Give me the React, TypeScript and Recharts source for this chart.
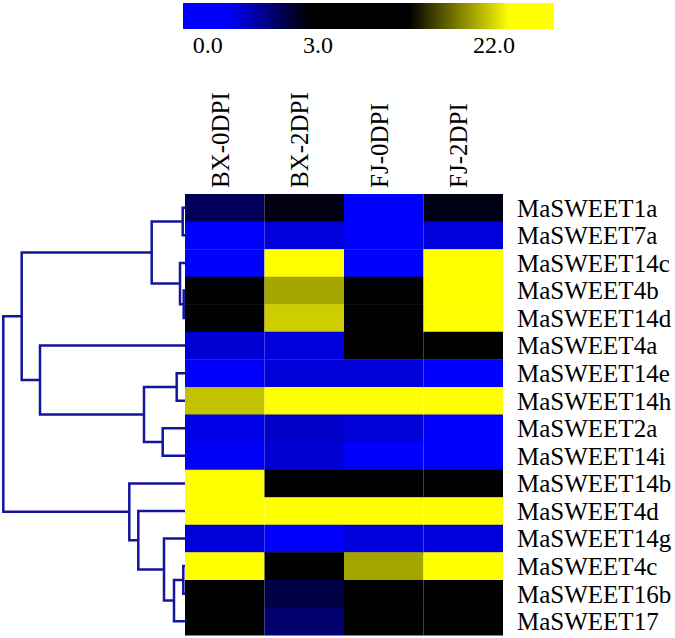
import React from 'react';
import {
  BarChart,
  Bar,
  Cell,
  XAxis,
  YAxis,
  ScatterChart,
  Scatter,
} from 'recharts';

// Genes in the row order of the heatmap (top to bottom)
const genes = [
  'MaSWEET1a', 'MaSWEET7a', 'MaSWEET14c', 'MaSWEET4b', 'MaSWEET14d', 'MaSWEET4a',
  'MaSWEET14e', 'MaSWEET14h', 'MaSWEET2a', 'MaSWEET14i', 'MaSWEET14b', 'MaSWEET4d',
  'MaSWEET14g', 'MaSWEET4c', 'MaSWEET16b', 'MaSWEET17',
];

const samples = ['BX-0DPI', 'BX-2DPI', 'FJ-0DPI', 'FJ-2DPI'];

// Expression values, one array per sample column
const bx0dpi = [1.95, 0.0, 0.0, 3.0, 3.0, 0.5, 0.05, 17.5, 0.3, 0.1, 26.4, 31.2, 0.45, 24.8, 3.0, 3.0];
const bx2dpi = [2.8, 0.4, 28.6, 15.3, 18.3, 0.4, 0.45, 35.7, 0.65, 0.5, 3.0, 40.2, 0.0, 3.0, 2.2, 1.7];
const fj0dpi = [0.0, 0.0, 0.0, 3.0, 3.0, 3.0, 0.45, 29.3, 0.45, 0.0, 3.0, 38.5, 0.4, 15.3, 3.0, 3.0];
const fj2dpi = [2.75, 0.4, 33.8, 45.6, 27.1, 3.0, 0.0, 36.2, 0.05, 0.0, 3.0, 42.9, 0.4, 24.3, 3.0, 3.0];
const columns = [bx0dpi, bx2dpi, fj0dpi, fj2dpi];

// Colour scale labels
const legendLabels = ['0.0', '3.0', '22.0'];
const legendValues = [0, 3, 22];

// Row clustering: [childA, childB, distance]; leaves are 0..15, merges numbered from 16
const merges: Array<[number, number, number]> = [
  [3, 4, 0.013],
  [13, 14, 0.017],
  [0, 1, 0.023],
  [2, 16, 0.05],
  [6, 7, 0.083],
  [17, 15, 0.11],
  [12, 21, 0.21],
  [8, 9, 0.223],
  [18, 19, 0.333],
  [20, 23, 0.41],
  [11, 22, 0.467],
  [10, 26, 0.557],
  [5, 25, 1.45],
  [24, 28, 1.633],
  [29, 27, 1.817],
];

const FONT = '"Liberation Serif", "Times New Roman", serif';
const TREE_COLOR = '#14149c';

// blue (0) -> black (3) -> yellow (22)
const heatColor = (v: number) => {
  const [lo, mid, hi] = legendValues;
  if (v <= lo) return 'rgb(0,0,255)';
  if (v <= mid) {
    const t = (v - lo) / (mid - lo);
    return `rgb(0,0,${Math.round(255 * (1 - t))})`;
  }
  const t = Math.min(1, (v - mid) / (hi - mid));
  const c = Math.round(255 * t);
  return `rgb(${c},${c},0)`;
};

const tableData = genes.map((gene) => ({ gene, s0: 1, s1: 1, s2: 1, s3: 1 }));

// Build the dendrogram links (U shapes) from the merges
const nodeY: number[] = genes.map((_, i) => i + 0.5);
const nodeH: number[] = genes.map(() => 0);
const links = merges.map(([a, b, h]) => {
  const pts = [
    { x: nodeH[a], y: nodeY[a] },
    { x: h, y: nodeY[a] },
    { x: h, y: nodeY[b] },
    { x: nodeH[b], y: nodeY[b] },
  ];
  nodeY.push((nodeY[a] + nodeY[b]) / 2);
  nodeH.push(h);
  return pts;
});

const SampleTick = (props: any) => {
  const { x, y, payload } = props;
  const label = samples[Math.floor(payload.value)];
  const bx = x + 4;
  return (
    <text
      x={bx}
      y={y}
      transform={`rotate(-90 ${bx} ${y})`}
      textAnchor="start"
      fontSize={25}
      fontFamily={FONT}
      fill="#000"
    >
      {label}
    </text>
  );
};

const ColorBar = () => {
  // positions of the three labels along the bar (fraction of its length)
  const tickPos = [0.067, 0.364, 0.838];
  return (
    <BarChart
      width={371}
      height={64}
      layout="vertical"
      data={[{ name: 'scale', span: 1 }]}
      margin={{ top: 3, right: 0, left: 0, bottom: 0 }}
      barCategoryGap={0}
    >
      <defs>
        <linearGradient id="legendGrad" x1="0" y1="0" x2="1" y2="0">
          <stop offset="0" stopColor="#0000ff" />
          <stop offset="0.12" stopColor="#0000ff" />
          <stop offset="0.34" stopColor="#000000" />
          <stop offset="0.61" stopColor="#000000" />
          <stop offset="0.88" stopColor="#ffff00" />
          <stop offset="1" stopColor="#ffff00" />
        </linearGradient>
      </defs>
      <XAxis
        type="number"
        domain={[0, 1]}
        ticks={tickPos}
        interval={0}
        height={35}
        axisLine={false}
        tickLine={false}
        tickSize={0}
        tickMargin={7}
        tickFormatter={(_v: number, i: number) => legendLabels[i]}
        tick={{ fontSize: 24, fontFamily: FONT, fill: '#000' }}
      />
      <YAxis type="category" dataKey="name" hide />
      <Bar dataKey="span" fill="url(#legendGrad)" isAnimationActive={false} />
    </BarChart>
  );
};

const Dendrogram = () => (
  <ScatterChart width={185} height={441} margin={{ top: 0, right: 0, left: 0, bottom: 0 }}>
    <XAxis type="number" dataKey="x" domain={[0, 1.85]} reversed hide />
    <YAxis type="number" dataKey="y" domain={[0, genes.length]} reversed hide />
    {links.map((pts, i) => (
      <Scatter
        key={i}
        data={pts}
        fill={TREE_COLOR}
        line={{ stroke: TREE_COLOR, strokeWidth: 2.5 }}
        lineType="joint"
        shape={() => <g />}
        isAnimationActive={false}
      />
    ))}
  </ScatterChart>
);

const Heatmap = () => (
  <BarChart
    width={495}
    height={638}
    layout="vertical"
    data={tableData}
    margin={{ top: 0, right: 0, left: 5, bottom: 3 }}
    barCategoryGap={0}
    barGap={0}
  >
    <XAxis
      type="number"
      orientation="top"
      domain={[0, samples.length]}
      ticks={samples.map((_, i) => i + 0.5)}
      interval={0}
      height={194}
      axisLine={false}
      tickLine={false}
      tickSize={0}
      tickMargin={6}
      tick={<SampleTick />}
    />
    <YAxis
      type="category"
      dataKey="gene"
      orientation="right"
      width={172}
      interval={0}
      axisLine={false}
      tickLine={false}
      tickSize={0}
      tickMargin={14}
      tick={{ fontSize: 25, fontFamily: FONT, fill: '#000' }}
    />
    {columns.map((values, c) => (
      <Bar key={c} dataKey={`s${c}`} stackId="row" isAnimationActive={false}>
        {values.map((v, r) => (
          <Cell key={r} fill={heatColor(v)} />
        ))}
      </Bar>
    ))}
  </BarChart>
);

export default function App() {
  return (
    <div
      style={{
        position: 'absolute',
        left: 0,
        top: 0,
        width: 675,
        height: 638,
        background: '#fff',
        overflow: 'hidden',
      }}
    >
      <div style={{ position: 'absolute', left: 183, top: 0 }}>
        <ColorBar />
      </div>
      <div style={{ position: 'absolute', left: 180, top: 0 }}>
        <Heatmap />
      </div>
      <div style={{ position: 'absolute', left: 0, top: 194 }}>
        <Dendrogram />
      </div>
    </div>
  );
}
